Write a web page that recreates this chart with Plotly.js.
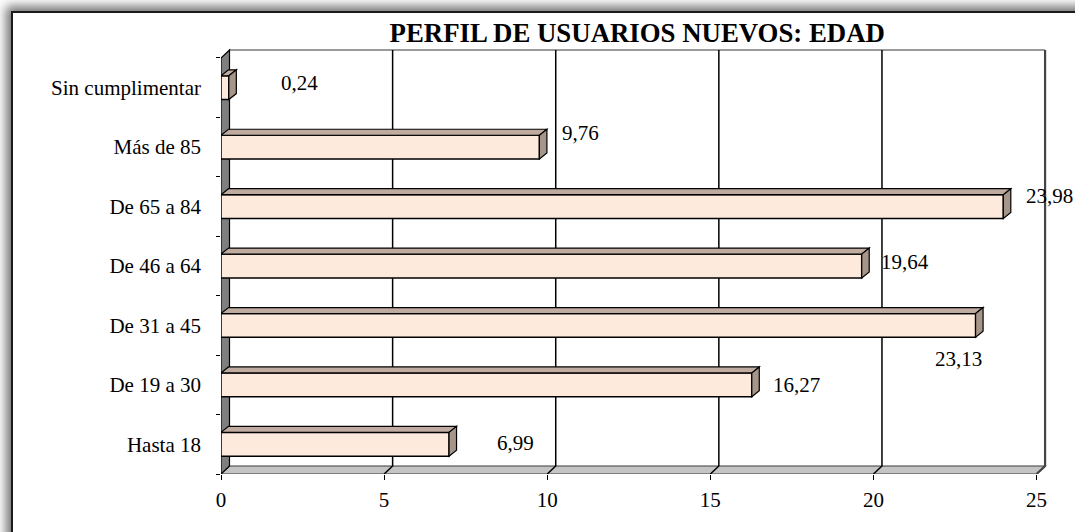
<!DOCTYPE html>
<html>
<head>
<meta charset="utf-8">
<script src="https://cdn.plot.ly/plotly-3.0.1.min.js"></script>
<style>
  html, body { margin: 0; padding: 0; background: #ffffff; overflow: hidden; }
  #frame {
    position: absolute; left: 11px; top: 11px; width: 1120px; height: 600px;
    border-left: 2px solid #1a1a1a; border-top: 2px solid #1a1a1a;
    background: #ffffff;
    box-shadow: -2px -2px 10px 3px rgba(0,0,0,0.55);
  }
  #chart { position: absolute; left: 0; top: 0; width: 1075px; height: 532px; }
</style>
</head>
<body>
<div id="frame"></div>
<div id="chart"></div>
<script>
// ---- data ----
const categories = ['Hasta 18', 'De 19 a 30', 'De 31 a 45', 'De 46 a 64', 'De 65 a 84', 'Más de 85', 'Sin cumplimentar'];
const values = [6.99, 16.27, 23.13, 19.64, 23.98, 9.76, 0.24];
const xTicks = [0, 5, 10, 15, 20, 25];
const chartTitle = 'PERFIL DE USUARIOS NUEVOS: EDAD';

// ---- layout / style (not data) ----
const labelShiftX = [66, 45, -17, 43, 46, 41, 71];
const labelShiftY = [1, 0, -34, 4, 11, 14, 5];

const W = 1075, H = 532;
const mL = 221, mR = 27, mT = 48, mB = 58;
const xMax = 25.35;
const plotW = W - mL - mR, plotH = H - mT - mB;
const pxX = plotW / xMax;              // pixels per x unit
const yLo = -0.5;
const pxY = 59.43;                     // pixels per category
const yHi = yLo + plotH / pxY;

// depth offsets (in data units)
const wallDx = 8.5 / pxX, wallDy = 8 / pxY;
const barDx = 7.5 / pxX, barDy = 6 / pxY;
const barW = 0.4;

const idx = categories.map((c, i) => i);
const font = 'Liberation Serif, Times New Roman, serif';

const shapes = [];
// back wall top edge
shapes.push({type: 'line', xref: 'x', yref: 'y', layer: 'below',
  x0: wallDx, x1: xTicks[xTicks.length - 1] + wallDx, y0: yLo + 7 + wallDy, y1: yLo + 7 + wallDy,
  line: {color: '#9a9a9a', width: 2}});
// floor
const xEnd = xTicks[xTicks.length - 1];
shapes.push({type: 'path', xref: 'x', yref: 'y', layer: 'below',
  path: `M0,${yLo} L${xEnd},${yLo} L${xEnd + wallDx},${yLo + wallDy} L${wallDx},${yLo + wallDy} Z`,
  fillcolor: '#c4c4c4', line: {color: '#3a3a3a', width: 1.2}});
// gridlines on back wall (with slanted foot on the floor)
xTicks.forEach((v, k) => {
  if (k === 0) return;
  const last = k === xTicks.length - 1;
  shapes.push({type: 'path', xref: 'x', yref: 'y', layer: 'below',
    path: `M${v},${yLo} L${v + wallDx},${yLo + wallDy} L${v + wallDx},${yLo + 7 + wallDy}`,
    line: {color: last ? '#444444' : '#000000', width: last ? 2.2 : 1.5}});
});
// left wall
shapes.push({type: 'path', xref: 'x', yref: 'y', layer: 'below',
  path: `M0,${yLo} L${wallDx},${yLo + wallDy} L${wallDx},${yLo + 7 + wallDy} L0,${yLo + 7} Z`,
  fillcolor: '#7f7f7f', line: {color: '#000000', width: 1.2}});

// 3D faces of the bars
values.forEach((v, i) => {
  const yt = idx[i] + barW / 2, yb = idx[i] - barW / 2;
  shapes.push({type: 'path', xref: 'x', yref: 'y', layer: 'above',
    path: `M0,${yt} L${v},${yt} L${v + barDx},${yt + barDy} L${barDx},${yt + barDy} Z`,
    fillcolor: '#bfab9f', line: {color: '#000000', width: 1.2}});
  shapes.push({type: 'path', xref: 'x', yref: 'y', layer: 'above',
    path: `M${v},${yb} L${v},${yt} L${v + barDx},${yt + barDy} L${v + barDx},${yb + barDy} Z`,
    fillcolor: '#a69589', line: {color: '#000000', width: 1.2}});
});

const annotations = values.map((v, i) => ({
  x: v, y: idx[i], xref: 'x', yref: 'y',
  text: v.toFixed(2).replace('.', ','),
  showarrow: false, xanchor: 'center', yanchor: 'middle',
  xshift: labelShiftX[i], yshift: labelShiftY[i],
  font: {family: font, size: 21, color: '#000000'}
}));

const trace = {
  type: 'bar', orientation: 'h',
  x: values, y: idx, width: barW,
  marker: {color: '#fdeadc', line: {color: '#000000', width: 1.5}},
  hoverinfo: 'skip', cliponaxis: false
};

const layout = {
  width: W, height: H,
  margin: {l: mL, r: mR, t: mT, b: mB, pad: 0},
  paper_bgcolor: 'rgba(0,0,0,0)', plot_bgcolor: 'rgba(0,0,0,0)',
  showlegend: false,
  title: {text: '<b>' + chartTitle + '</b>', x: 0.5928, xanchor: 'center', y: 0.938, yanchor: 'middle',
          font: {family: font, size: 26.8, color: '#000000'}},
  xaxis: {range: [0, xMax], autorange: false, tickmode: 'array', tickvals: xTicks,
          ticktext: xTicks.map(String),
          showgrid: false, zeroline: false, showline: false,
          ticks: 'outside', ticklen: 5, tickwidth: 1, tickcolor: '#000000',
          ticklabelstandoff: 2,
          tickfont: {family: font, size: 21, color: '#000000'}, fixedrange: true},
  yaxis: {range: [yLo, yHi], autorange: false, tickmode: 'array', tickvals: idx,
          ticktext: categories, ticks: '',
          minor: {tick0: -0.5, dtick: 1, ticks: 'outside', ticklen: 4, tickwidth: 1, tickcolor: '#000000', showgrid: false},
          showgrid: false, zeroline: false, showline: false,
          ticklabelstandoff: 19,
          tickfont: {family: font, size: 21, color: '#000000'}, fixedrange: true},
  shapes: shapes,
  annotations: annotations
};

Plotly.newPlot('chart', [trace], layout, {displayModeBar: false, staticPlot: true});
</script>
</body>
</html>
